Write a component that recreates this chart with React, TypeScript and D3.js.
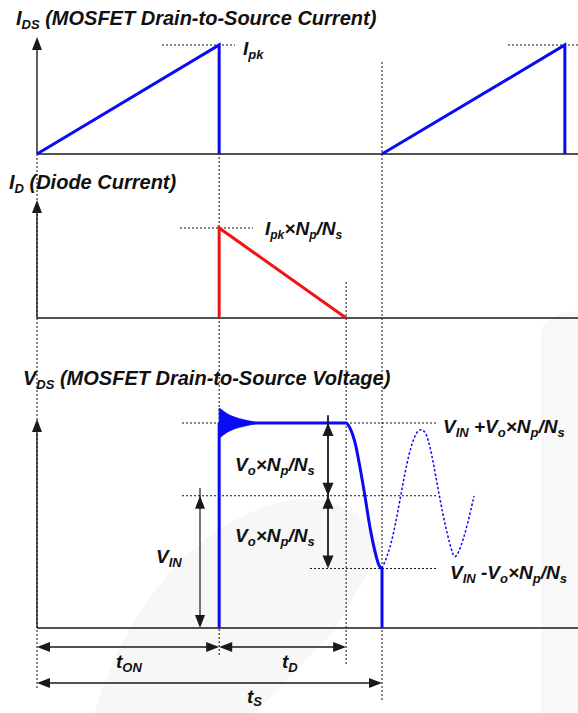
import React from "react";
import * as d3 from "d3";

// ---------- data (time in % of switching period tS, current in Ipk units, voltage in % of VIN) ----------
const timeMarks = [0, 52.8, 89.6, 100]; // 0, tON, tON+tD, tS
const idsCycle1 = [[0, 0], [52.8, 1], [52.8, 0]];
const idsCycle2 = [[100, 0], [153, 1], [153, 0]];
const idPoints = [[52.8, 0], [52.8, 1], [89.6, 0]];
const vdsRise = [[52.8, 0], [52.8, 155]];
const ringEnvelope = [[52.8, 11.3], [53.8, 9.5], [55.0, 7.2], [56.5, 5.2], [58.5, 3.4], [60.9, 1.9], [63.0, 0.7], [64.5, 0]];
const vdsFall = [
  [52.8, 155], [89.6, 155], [90.7, 151.2], [92.2, 139.9], [93.6, 121.7], [95.1, 99.0],
  [96.5, 76.4], [98.0, 57.5], [99.1, 47.6], [100, 45],
];
const vdsOff = [[100, 45], [100, 0]];
const ringOff = [
  [100, 45], [102.3, 59], [104.35, 83.9], [107.25, 127], [109.57, 147.4], [111.3, 151.2],
  [113.04, 147.4], [114.78, 127], [117.68, 83.9], [120.29, 56.7], [121.16, 52.2],
  [122.61, 59], [124.64, 76.4], [126.67, 99.8],
];
const vLevels = { vin: 100, high: 155, low: 45 };

type Part = { t: string; sub?: boolean };
const titleIds: Part[] = [{ t: "I" }, { t: "DS", sub: true }, { t: " (MOSFET Drain-to-Source Current)" }];
const titleId: Part[] = [{ t: "I" }, { t: "D", sub: true }, { t: " (Diode Current)" }];
const titleVds: Part[] = [{ t: "V" }, { t: "DS", sub: true }, { t: " (MOSFET Drain-to-Source Voltage)" }];
const labelIpk: Part[] = [{ t: "I" }, { t: "pk", sub: true }];
const labelIdPk: Part[] = [{ t: "I" }, { t: "pk", sub: true }, { t: "×N" }, { t: "p", sub: true }, { t: "/N" }, { t: "s", sub: true }];
const labelHigh: Part[] = [{ t: "V" }, { t: "IN", sub: true }, { t: " +V" }, { t: "o", sub: true }, { t: "×N" }, { t: "p", sub: true }, { t: "/N" }, { t: "s", sub: true }];
const labelLow: Part[] = [{ t: "V" }, { t: "IN", sub: true }, { t: " -V" }, { t: "o", sub: true }, { t: "×N" }, { t: "p", sub: true }, { t: "/N" }, { t: "s", sub: true }];
const labelVr: Part[] = [{ t: "V" }, { t: "o", sub: true }, { t: "×N" }, { t: "p", sub: true }, { t: "/N" }, { t: "s", sub: true }];
const labelVin: Part[] = [{ t: "V" }, { t: "IN", sub: true }];
const labelTon: Part[] = [{ t: "t" }, { t: "ON", sub: true }];
const labelTd: Part[] = [{ t: "t" }, { t: "D", sub: true }];
const labelTs: Part[] = [{ t: "t" }, { t: "S", sub: true }];

// ---------- layout ----------
const W = 578, H = 713;
const FONT = "'Liberation Sans', Arial, Helvetica, sans-serif";
const BLUE = "#0a0af5";
const RED = "#f01414";
const AX = "#1a1a1a";

const x = d3.scaleLinear().domain([0, 100]).range([37, 382]);
const yI = d3.scaleLinear().domain([0, 1]).range([154, 45]);
const yD = d3.scaleLinear().domain([0, 1]).range([318, 228]);
const yV = d3.scaleLinear().domain([0, 155]).range([628, 423]);

const lineFor = (ys: d3.ScaleLinear<number, number>, curve: d3.CurveFactory = d3.curveLinear) =>
  d3.line<number[]>().x((d) => x(d[0])).y((d) => ys(d[1])).curve(curve);

function RichText({ x: px, y: py, parts, size = 19, subSize = 13, shift = 4 }: { x: number; y: number; parts: Part[]; size?: number; subSize?: number; shift?: number }) {
  let cur = 0;
  return (
    <text x={px} y={py} fontFamily={FONT} fontWeight="bold" fontStyle="italic" fontSize={size} fill="#111">
      {parts.map((p, i) => {
        const target = p.sub ? shift : 0;
        const dy = target - cur;
        cur = target;
        return (
          <tspan key={i} dy={dy} fontSize={p.sub ? subSize : size} style={{ whiteSpace: "pre" }}>
            {p.t}
          </tspan>
        );
      })}
    </text>
  );
}

function VArrow({ x0, y1, y2, head = true, tail = false, w = 1.2, hw = 5, hl = 13 }: { x0: number; y1: number; y2: number; head?: boolean; tail?: boolean; w?: number; hw?: number; hl?: number }) {
  const dir = y2 < y1 ? -1 : 1;
  return (
    <g>
      <line x1={x0} x2={x0} y1={tail ? y1 - dir * hl * 0.6 : y1} y2={y2 - dir * hl * 0.6} stroke={AX} strokeWidth={w} />
      {head && <polygon points={`${x0},${y2} ${x0 - hw},${y2 - dir * hl} ${x0 + hw},${y2 - dir * hl}`} fill={AX} />}
      {tail && <polygon points={`${x0},${y1} ${x0 - hw},${y1 + dir * hl} ${x0 + hw},${y1 + dir * hl}`} fill={AX} />}
    </g>
  );
}

function HArrow({ y0, x1, x2, hw = 5, hl = 13 }: { y0: number; x1: number; x2: number; hw?: number; hl?: number }) {
  return (
    <g>
      <line x1={x1 + hl * 0.5} x2={x2 - hl * 0.5} y1={y0} y2={y0} stroke={AX} strokeWidth={1.6} />
      <polygon points={`${x1},${y0} ${x1 + hl},${y0 - hw} ${x1 + hl},${y0 + hw}`} fill={AX} />
      <polygon points={`${x2},${y0} ${x2 - hl},${y0 - hw} ${x2 - hl},${y0 + hw}`} fill={AX} />
    </g>
  );
}

const Dash = ({ x1, x2, y1, y2 }: { x1: number; x2: number; y1: number; y2: number }) => (
  <line x1={x1} x2={x2} y1={y1} y2={y2} stroke="#111" strokeWidth={1} strokeDasharray="2,2" />
);

export default function App() {
  const [t0, tOn, tDe, tS] = timeMarks.map((t) => x(t));
  const ringArea = d3
    .area<number[]>()
    .x((d) => x(d[0]))
    .y0((d) => yV(vLevels.high + d[1]))
    .y1((d) => yV(vLevels.high - d[1]))
    .curve(d3.curveMonotoneX);

  return (
    <svg width={W} height={H} viewBox={`0 0 ${W} ${H}`} style={{ position: "absolute", left: 0, top: 0, background: "#fff" }}>
      <rect width={W} height={H} fill="#fff" />
      {/* faint background watermark */}
      <path d="M 95 713 C 120 620, 190 520, 290 500 C 335 494, 368 515, 382 548 L 335 630 L 255 713 Z" fill="#f7f7f7" />
      <path d="M 541 713 L 541 330 C 548 315, 570 310, 578 312 L 578 713 Z" fill="#f8f8f8" />

      {/* guide verticals */}
      <Dash x1={t0} x2={t0} y1={yI(0)} y2={690} />
      <Dash x1={tOn} x2={tOn} y1={yI(1)} y2={655} />
      <Dash x1={tDe} x2={tDe} y1={282} y2={665} />
      <Dash x1={tS} x2={tS} y1={62} y2={700} />

      {/* guide horizontals */}
      <Dash x1={162} x2={235} y1={yI(1)} y2={yI(1)} />
      <Dash x1={508} x2={W} y1={yI(1)} y2={yI(1)} />
      <Dash x1={180} x2={253} y1={yD(1)} y2={yD(1)} />
      <Dash x1={182} x2={437} y1={yV(vLevels.high)} y2={yV(vLevels.high)} />
      <Dash x1={182} x2={437} y1={yV(vLevels.vin)} y2={yV(vLevels.vin)} />
      <Dash x1={310} x2={437} y1={yV(vLevels.low)} y2={yV(vLevels.low)} />

      {/* axes */}
      {[
        [yI, 37],
        [yD, 200],
        [yV, 419],
      ].map(([ys, tip]: any, i) => (
        <g key={i}>
          <line x1={t0} x2={W} y1={ys(0)} y2={ys(0)} stroke={AX} strokeWidth={1.6} />
          <VArrow x0={t0} y1={ys(0)} y2={tip} w={1.4} />
        </g>
      ))}

      {/* IDS */}
      <path d={lineFor(yI)(idsCycle1 as any) || ""} fill="none" stroke={BLUE} strokeWidth={3} strokeLinejoin="miter" />
      <path d={lineFor(yI)(idsCycle2 as any) || ""} fill="none" stroke={BLUE} strokeWidth={3} strokeLinejoin="miter" />

      {/* ID */}
      <path d={lineFor(yD)(idPoints as any) || ""} fill="none" stroke={RED} strokeWidth={3} />

      {/* VDS */}
      <path d={lineFor(yV, d3.curveBasis)(ringOff as any) || ""} fill="none" stroke={BLUE} strokeWidth={1.5} strokeDasharray="2.5,2" />
      <path d={ringArea(ringEnvelope as any) || ""} fill={BLUE} stroke={BLUE} strokeWidth={0.8} />
      <path d={lineFor(yV)(vdsRise as any) || ""} fill="none" stroke={BLUE} strokeWidth={3} />
      <path d={lineFor(yV, d3.curveMonotoneX)(vdsFall as any) || ""} fill="none" stroke={BLUE} strokeWidth={3} />
      <path d={lineFor(yV)(vdsOff as any) || ""} fill="none" stroke={BLUE} strokeWidth={3} />

      {/* voltage arrows */}
      <VArrow x0={200} y1={yV(vLevels.vin)} y2={yV(0)} tail w={1.2} hw={5} hl={13} />
      <VArrow x0={328} y1={yV(vLevels.high)} y2={yV(vLevels.vin)} tail w={1.8} hw={5.5} hl={13} />
      <VArrow x0={328} y1={yV(vLevels.vin)} y2={yV(vLevels.low)} tail w={1.8} hw={5.5} hl={13} />

      {/* time arrows */}
      <HArrow y0={647} x1={t0} x2={tOn} />
      <HArrow y0={647} x1={tOn} x2={tDe} />
      <HArrow y0={683} x1={t0} x2={tS} />

      {/* texts */}
      <RichText x={16} y={25} parts={titleIds} size={20} />
      <RichText x={9} y={189} parts={titleId} size={20} />
      <RichText x={23} y={385} parts={titleVds} size={20} />
      <RichText x={243} y={55} parts={labelIpk} />
      <RichText x={265} y={235} parts={labelIdPk} subSize={12} />
      <RichText x={443} y={433} parts={labelHigh} />
      <RichText x={450} y={579} parts={labelLow} />
      <RichText x={235} y={471} parts={labelVr} />
      <RichText x={235} y={542} parts={labelVr} />
      <RichText x={156} y={563} parts={labelVin} />
      <RichText x={116} y={668} parts={labelTon} />
      <RichText x={282} y={668} parts={labelTd} />
      <RichText x={247} y={703} parts={labelTs} shift={3} />
    </svg>
  );
}
